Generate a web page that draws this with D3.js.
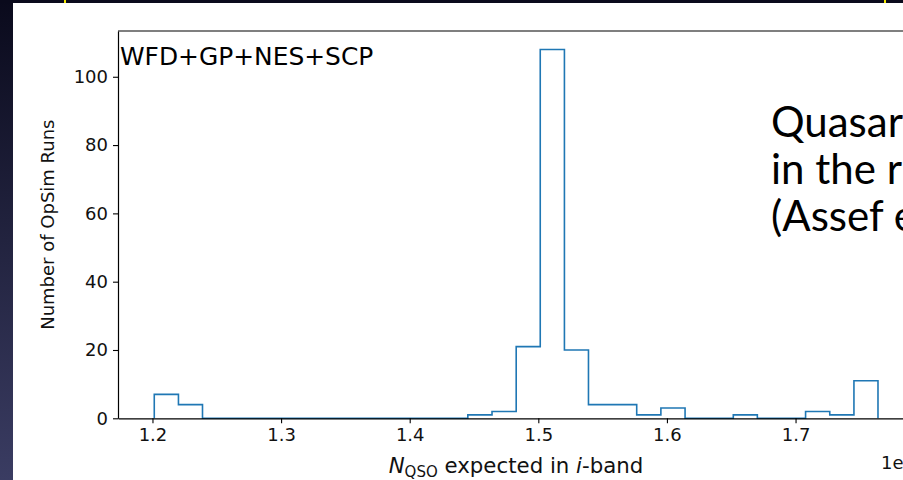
<!DOCTYPE html>
<html>
<head>
<meta charset="utf-8">
<script src="https://cdn.jsdelivr.net/npm/d3@7"></script>
<style>
  body { margin: 0; overflow: hidden; background: #0b0b1e; }
  svg { display: block; }
</style>
</head>
<body>
<svg id="chart" width="903" height="480"></svg>
<script>
"use strict";

// Histogram bin edges (units of 1e7 quasars)
const binEdges = [1.2014, 1.2202, 1.2389, 1.2577, 1.2764, 1.2952, 1.3139, 1.3327,
  1.3515, 1.3702, 1.3890, 1.4077, 1.4265, 1.4452, 1.4640, 1.4828, 1.5015, 1.5203,
  1.5390, 1.5578, 1.5765, 1.5953, 1.6141, 1.6328, 1.6516, 1.6703, 1.6891, 1.7078,
  1.7266, 1.7454, 1.7641];

// Counts per bin
const binCounts = [7, 4, 0, 0, 0, 0, 0, 0, 0, 0, 0, 0, 0, 1, 2, 21, 108, 20, 4, 4,
  1, 3, 0, 0, 1, 0, 0, 2, 1, 11];

const xTicks = [1.2, 1.3, 1.4, 1.5, 1.6, 1.7];
const yTicks = [0, 20, 40, 60, 80, 100];

const slideLines = ["Quasar", "in the r", "(Assef e"];

const svg = d3.select("#chart");

// Slide background
const defs = svg.append("defs");
const grad = defs.append("linearGradient")
    .attr("id", "bgGrad")
    .attr("x1", 0).attr("y1", 0).attr("x2", 0).attr("y2", 1);
grad.append("stop").attr("offset", "0%").attr("stop-color", "#0a0a1c");
grad.append("stop").attr("offset", "100%").attr("stop-color", "#3a3c62");

svg.append("rect")
    .attr("width", 903).attr("height", 480)
    .attr("fill", "url(#bgGrad)");

svg.append("rect")
    .attr("x", 0).attr("y", 0).attr("width", 903).attr("height", 3)
    .attr("fill", "#0a0a1c");

svg.append("rect")
    .attr("x", 13).attr("y", 3).attr("width", 890).attr("height", 477)
    .attr("fill", "#ffffff");

// little bits of the yellow frame poking in at the top
[65, 885].forEach(x => {
  svg.append("rect")
      .attr("x", x - 1).attr("y", 0).attr("width", 2).attr("height", 3)
      .attr("fill", "#f2e600");
});

// Axes area
const margin = {left: 118, top: 31, right: 914, bottom: 418.3};

const x = d3.scaleLinear()
    .domain([1.1732, 1.7921])
    .range([margin.left, margin.right]);

const y = d3.scaleLinear()
    .domain([0, 113.4])
    .range([margin.bottom, margin.top]);

const font = "'DejaVu Sans', sans-serif";

// Step histogram outline
const pts = [[binEdges[0], 0]];
binCounts.forEach((c, i) => {
  pts.push([binEdges[i], c]);
  pts.push([binEdges[i + 1], c]);
});
pts.push([binEdges[binEdges.length - 1], 0]);

svg.append("path")
    .datum(pts)
    .attr("d", d3.line().x(d => x(d[0])).y(d => y(d[1])))
    .attr("fill", "none")
    .attr("stroke", "#1f77b4")
    .attr("stroke-width", 1.6)
    .attr("stroke-linejoin", "miter");

// Axes
const xAxis = svg.append("g")
    .attr("transform", "translate(0," + margin.bottom + ")")
    .call(d3.axisBottom(x).tickValues(xTicks).tickFormat(d3.format(".1f"))
      .tickSize(5).tickPadding(5).tickSizeOuter(0));

const yAxis = svg.append("g")
    .attr("transform", "translate(" + margin.left + ",0)")
    .call(d3.axisLeft(y).tickValues(yTicks).tickSize(5).tickPadding(5).tickSizeOuter(0));

[xAxis, yAxis].forEach(g => {
  g.select(".domain").attr("stroke", "#000").attr("stroke-width", 1.2);
  g.selectAll(".tick line").attr("stroke", "#000").attr("stroke-width", 1.1);
  g.selectAll(".tick text")
      .attr("fill", "#111")
      .style("font-family", font)
      .style("font-size", "18px");
});

// top spine
svg.append("line")
    .attr("x1", margin.left).attr("x2", margin.right)
    .attr("y1", margin.top).attr("y2", margin.top)
    .attr("stroke", "#000").attr("stroke-width", 1.2);

// Labels
const xLabel = svg.append("text")
    .attr("x", (margin.left + margin.right) / 2)
    .attr("y", 473)
    .attr("text-anchor", "middle")
    .attr("fill", "#111")
    .style("font-family", font)
    .style("font-size", "21.3px");
xLabel.append("tspan").style("font-style", "italic").text("N");
xLabel.append("tspan").attr("dy", 4).style("font-size", "15px").text("QSO");
xLabel.append("tspan").attr("dy", -4).text(" expected in ");
xLabel.append("tspan").style("font-style", "italic").text("i");
xLabel.append("tspan").text("-band");

svg.append("text")
    .attr("transform", "translate(54," + ((margin.top + margin.bottom) / 2) + ") rotate(-90)")
    .attr("text-anchor", "middle")
    .attr("fill", "#111")
    .style("font-family", font)
    .style("font-size", "18px")
    .text("Number of OpSim Runs");

// offset text, cut by the slide edge like in the source
svg.append("text")
    .attr("x", 881)
    .attr("y", 469)
    .attr("fill", "#111")
    .style("font-family", font)
    .style("font-size", "18px")
    .text("1e");

svg.append("text")
    .attr("x", 120)
    .attr("y", 65)
    .attr("fill", "#000")
    .style("font-family", font)
    .style("font-size", "24.9px")
    .text("WFD+GP+NES+SCP");

// Slide text overlapping the figure
svg.append("g").selectAll("text")
    .data(slideLines)
  .enter().append("text")
    .attr("x", 771)
    .attr("y", (d, i) => 137 + i * 47)
    .attr("fill", "#000")
    .style("font-family", "Lato, 'Open Sans', sans-serif")
    .style("font-size", "42px")
    .text(d => d);
</script>
</body>
</html>
